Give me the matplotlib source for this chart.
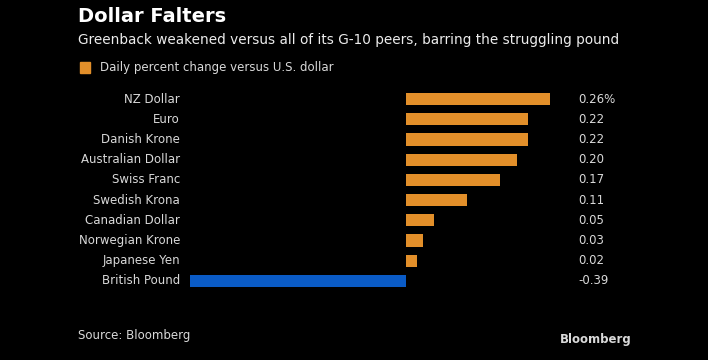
import matplotlib.pyplot as plt
import matplotlib.transforms as mtransforms
import numpy as np

currencies = ["NZ Dollar", "Euro", "Danish Krone", "Australian Dollar", "Swiss Franc",
              "Swedish Krona", "Canadian Dollar", "Norwegian Krone", "Japanese Yen", "British Pound"]
change = [0.26, 0.22, 0.22, 0.20, 0.17, 0.11, 0.05, 0.03, 0.02, -0.39]
value_labels = ["0.26%", "0.22", "0.22", "0.20", "0.17", "0.11", "0.05", "0.03", "0.02", "-0.39"]

orange = "#e28f2a"
blue = "#0a5bc6"
txt = "#d9d9d9"

fig = plt.figure(figsize=(7.08, 3.6), dpi=100, facecolor="black")
ax = fig.add_axes([190/708, 1-291/360, 360/708, 202/360], facecolor="black")

y = np.arange(len(currencies))
colors = [blue if v < 0 else orange for v in change]
ax.barh(y, change, height=0.6, color=colors)
ax.set_xlim(-0.39, 0.26)
ax.set_ylim(len(currencies) - 0.5, -0.5)
ax.axis("off")

# x in figure coords, y in data coords
trans = mtransforms.blended_transform_factory(fig.transFigure, ax.transData)
for i, (name, lab) in enumerate(zip(currencies, value_labels)):
    ax.text(180/708, i, name, transform=trans, ha="right", va="center", color=txt, fontsize=8.5)
    ax.text(578/708, i, lab, transform=trans, ha="left", va="center", color=txt, fontsize=8.5)

fig.text(78/708, 1-17/360, "Dollar Falters", color="white", fontsize=14, fontweight="bold", va="center")
fig.text(78/708, 1-40/360, "Greenback weakened versus all of its G-10 peers, barring the struggling pound",
         color="#ececec", fontsize=9.85, va="center")
fig.patches.append(plt.Rectangle((80/708, 1-73/360), 10/708, 11/360, transform=fig.transFigure,
                                 color=orange, figure=fig))
fig.text(100/708, 1-67/360, "Daily percent change versus U.S. dollar", color=txt, fontsize=8.5, va="center")
fig.text(78/708, 1-336/360, "Source: Bloomberg", color=txt, fontsize=8.5, va="center")
fig.text(632/708, 1-339/360, "Bloomberg", color=txt, fontsize=8.5, fontweight="bold", va="center", ha="right")

fig.savefig("out.png", dpi=100, facecolor="black")
